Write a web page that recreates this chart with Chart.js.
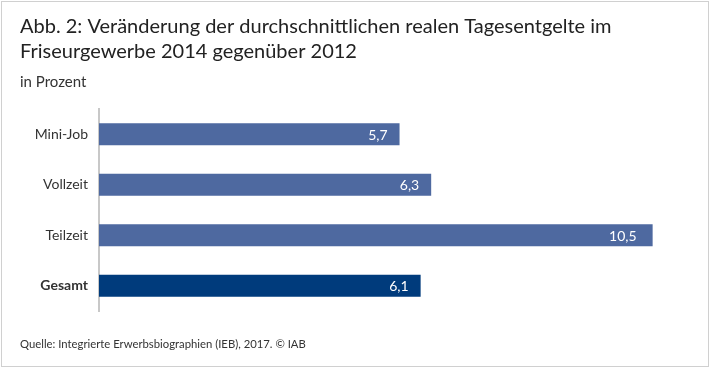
<!DOCTYPE html>
<html>
<head>
<meta charset="utf-8">
<script src="https://cdn.jsdelivr.net/npm/chart.js@4"></script>
<style>
  body { margin: 0; background: #fff; }
  #wrap { width: 710px; height: 368px; position: relative; }
</style>
</head>
<body>
<div id="wrap"><canvas id="chart"></canvas></div>
<script>
const categories = ['Mini-Job', 'Vollzeit', 'Teilzeit', 'Gesamt'];
const values = [5.7, 6.3, 10.5, 6.1];
const barColors = ['#4e69a0', '#4e69a0', '#4e69a0', '#003b7c'];
const titleLines = ['Abb. 2: Veränderung der durchschnittlichen realen Tagesentgelte im', 'Friseurgewerbe 2014 gegenüber 2012'];
const unitText = 'in Prozent';
const sourceText = 'Quelle: Integrierte Erwerbsbiographien (IEB), 2017. © IAB';

const FONT = 'Lato, "Open Sans", sans-serif';

function fmt(v) {
    return v.toFixed(1).replace('.', ',');
}

const framePlugin = {
    id: 'frame',
    beforeDraw(chart) {
        const ctx = chart.ctx;
        ctx.save();
        ctx.fillStyle = '#fff';
        ctx.fillRect(0, 0, chart.width, chart.height);
        ctx.strokeStyle = '#d0d0d0';
        ctx.lineWidth = 1;
        ctx.strokeRect(1.5, 1.5, chart.width - 3, chart.height - 3);
        ctx.restore();
    },
    afterDraw(chart) {
        const ctx = chart.ctx;
        ctx.save();
        ctx.font = '11.3px ' + FONT;
        ctx.fillStyle = '#333';
        ctx.textBaseline = 'alphabetic';
        ctx.textAlign = 'left';
        ctx.fillText(sourceText, 20, 348);
        ctx.restore();
    }
};

const valueLabels = {
    id: 'valueLabels',
    afterDatasetsDraw(chart) {
        const ctx = chart.ctx;
        const meta = chart.getDatasetMeta(0);
        ctx.save();
        ctx.font = '14px ' + FONT;
        ctx.fillStyle = '#fff';
        ctx.textAlign = 'right';
        ctx.textBaseline = 'middle';
        meta.data.forEach((bar, i) => {
            const pad = values[i] >= 10 ? 16 : 12;
            ctx.fillText(fmt(values[i]), bar.x - pad, bar.y + 1);
        });
        ctx.restore();
    }
};

new Chart(document.getElementById('chart'), {
    type: 'bar',
    data: {
        labels: categories,
        datasets: [{
            data: values,
            backgroundColor: barColors,
            barPercentage: 0.44,
            categoryPercentage: 1
        }]
    },
    options: {
        indexAxis: 'y',
        responsive: true,
        maintainAspectRatio: false,
        animation: false,
        layout: { padding: { left: 20, right: 31, top: 0, bottom: 57 } },
        scales: {
            x: {
                display: false,
                min: 0,
                max: 11
            },
            y: {
                afterFit(scale) { scale.width = 79; },
                grid: { display: false, drawTicks: false },
                border: { display: true, color: '#c8c8c8', width: 2 },
                ticks: {
                    padding: 11,
                    color: '#333',
                    font: (c) => ({ family: FONT, size: 14, weight: c.index === 3 ? 'bold' : 'normal' })
                }
            }
        },
        plugins: {
            legend: { display: false },
            tooltip: { enabled: false },
            title: {
                display: true,
                text: titleLines,
                align: 'start',
                color: '#222',
                font: { family: FONT, size: 20, weight: 'normal', lineHeight: 1.25 },
                padding: { top: 14, bottom: 0 }
            },
            subtitle: {
                display: true,
                text: unitText,
                align: 'start',
                color: '#333',
                font: { family: FONT, size: 15, lineHeight: 1.2 },
                padding: { top: 9, bottom: 18 }
            }
        }
    },
    plugins: [framePlugin, valueLabels]
});
</script>
</body>
</html>
